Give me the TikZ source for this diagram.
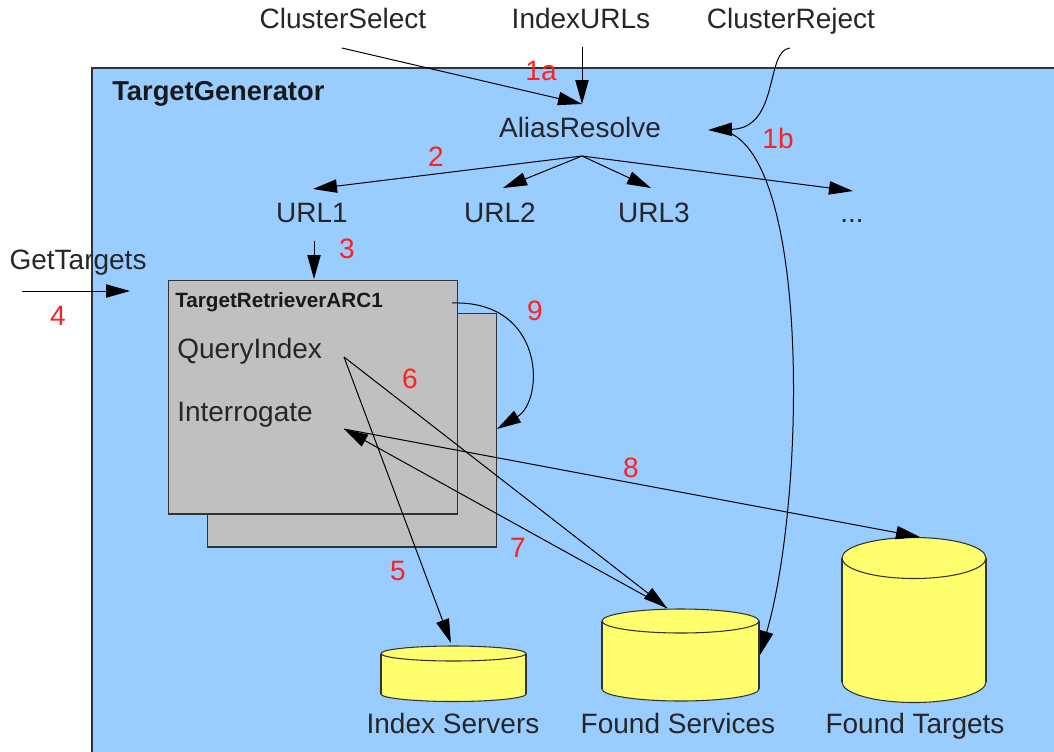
\documentclass[tikz,border=0pt]{standalone}
\usepackage{fontspec}
\setmainfont{Liberation Sans}
\usetikzlibrary{arrows.meta}
\definecolor{bgblue}{HTML}{99CCFF}
\definecolor{boxgray}{HTML}{C0C0C0}
\definecolor{dbyellow}{HTML}{FFFF6D}
\definecolor{numred}{HTML}{FF2020}
\definecolor{edgegray}{HTML}{333333}
\newcommand{\dbcyl}[6]{%
  \filldraw[fill=dbyellow, draw=edgegray, line width=0.8pt] (#1,#4) ellipse [x radius=#2, y radius=#5];
  \fill[dbyellow] (#1-#2,#3) rectangle (#1+#2,#4);
  \draw[edgegray, line width=0.8pt] (#1-#2,#3) -- (#1-#2,#4) (#1+#2,#3) -- (#1+#2,#4);
  \filldraw[fill=dbyellow, draw=edgegray, line width=0.8pt] (#1,#3) ellipse [x radius=#2, y radius=#5];
  \coordinate (#6) at (#1,#3);
}
\begin{document}
\begin{tikzpicture}[x=0.75pt,y=-0.75pt,
  lbl/.style={font=\fontsize{21}{24}\selectfont, inner sep=0pt, anchor=base, text=black!85},
  lblw/.style={lbl, anchor=base west},
  num/.style={lbl, text=numred},
  boldlbl/.style={font=\fontsize{20.5}{24}\selectfont\bfseries, inner sep=0pt, anchor=base west, text=black!90},
  smallbold/.style={font=\fontsize{15.5}{18}\selectfont\bfseries, inner sep=0pt, anchor=base west, text=black!90},
  box/.style={draw=edgegray, fill=boxgray, line width=1pt, anchor=north west, inner sep=0pt,
              minimum width=216.75pt, minimum height=175pt},
  conn/.style={draw=black, line width=0.75pt, -{Triangle[length=18pt,width=10pt]}},
]
\useasboundingbox (0,0) rectangle (1054,751);
\clip (0,0) rectangle (1054,751);
\fill[bgblue] (92,68) rectangle (1060,760);
\draw[edgegray, line width=1pt] (92,760) -- (92,68) -- (1060,68);

% outside inputs
\node[lbl] (csel) at (343,28) {ClusterSelect};
\node[lbl] (iurl) at (581,28) {IndexURLs};
\node[lbl] (crej) at (791,28) {ClusterReject};
\node[lbl] (gett) at (78,269) {GetTargets};
\node[boldlbl] (tg) at (112,100) {TargetGenerator};

% inner labels
\node[lbl] (alias) at (580,137) {AliasResolve};
\node[lbl] (url1) at (312,222) {URL1};
\node[lbl] (url2) at (500,222) {URL2};
\node[lbl] (url3) at (654,222) {URL3};
\node[lbl] (dots) at (852,222) {...};

% retriever boxes
\node[box] (back) at (207,313) {};
\node[box] (front) at (168,280) {};
\node[smallbold] (trarc) at (175,307) {TargetRetrieverARC1};
\node[lblw] (qidx) at (177,358) {QueryIndex};
\node[lblw] (intg) at (177,421) {Interrogate};

% databases
\dbcyl{453.5}{72.5}{653.5}{694}{7.5}{istop}
\dbcyl{680.5}{78.5}{621}{689}{12}{fstop}
\dbcyl{914}{72}{558}{682}{20.5}{fttop}
\node[lbl] (isl) at (453,733) {Index Servers};
\node[lbl] (fsl) at (678,733) {Found Services};
\node[lbl] (ftl) at (915,733) {Found Targets};

% red step numbers
\node[num] (n1a) at (541,80) {1a};
\node[num] (n1b) at (778,148) {1b};
\node[num] (n2) at (436,166) {2};
\node[num] (n3) at (347,258) {3};
\node[num] (n4) at (58,325) {4};
\node[num] (n5) at (398,580) {5};
\node[num] (n6) at (410,388) {6};
\node[num] (n7) at (518,557) {7};
\node[num] (n8) at (631,477) {8};
\node[num] (n9) at (535,320) {9};

% connector end points
\coordinate (cselout) at (342,48);
\coordinate (iurlout) at (582,47);
\coordinate (arin) at (582,104);
\coordinate (crejout) at (790,48);
\coordinate (arright) at (708,130);
\coordinate (arout) at (730,133);
\coordinate (apex) at (582,156);
\coordinate (url1in) at (313,189);
\coordinate (url2in) at (503,188);
\coordinate (url3in) at (651,188);
\coordinate (dotsin) at (853,191);
\coordinate (url1out) at (314,241);
\coordinate (retrin) at (314,279);
\coordinate (getout) at (22,291);
\coordinate (getin) at (130,291);
\coordinate (r9out) at (452,303);
\coordinate (r9in) at (497,429);
\coordinate (qiout) at (344,357);
\coordinate (igpt) at (344,429);
\coordinate (isin) at (451,643);
\coordinate (fsin) at (667,608);
\coordinate (fsright) at (760,655);
\coordinate (ftin) at (920,537);

% connectors
\draw[conn] (cselout) -- (arin);
\draw[conn] (iurlout) -- (arin);
\draw[conn] (crejout) .. controls (765,50) and (780,128) .. (arright);
\draw[conn] (arout) .. controls (810,170) and (805,500) .. (fsright);
\draw[conn] (apex) -- (url1in);
\draw[conn] (apex) -- (url2in);
\draw[conn] (apex) -- (url3in);
\draw[conn] (apex) -- (dotsin);
\draw[conn] (url1out) -- (retrin);
\draw[conn] (getout) -- (getin);
\draw[conn] (r9out) .. controls (545,300) and (545,400) .. (r9in);
\draw[conn] (qiout) -- (isin);
\draw[conn] (qiout) -- (fsin);
\draw[conn] (fsin) -- (igpt);
\draw[conn] (igpt) -- (ftin);
\end{tikzpicture}
\end{document}
